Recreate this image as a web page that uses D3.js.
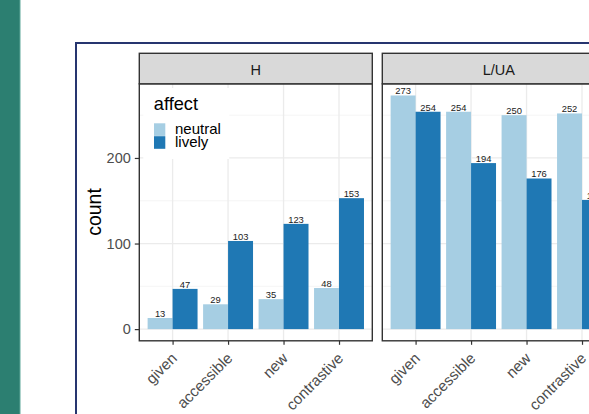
<!DOCTYPE html>
<html><head><meta charset="utf-8">
<script src="https://cdn.jsdelivr.net/npm/d3@7"></script>
<style>body{margin:0;background:#fff;}svg{display:block;font-family:"Liberation Sans",Arial,sans-serif;}</style>
</head><body>
<svg id="c" width="589" height="414"></svg>
<script>
const categories = ["given","accessible","new","contrastive"];
const facets = ["H","L/UA"];
const affects = ["neutral","lively"];
const neutralH = [13,29,35,48];
const livelyH = [47,103,123,153];
const neutralLUA = [273,254,250,252];
const livelyLUA = [254,194,176,151];
const yTicks = [0,100,200];
const colors = ["#a6cee3","#1f78b4"];

const data = {"H":[neutralH,livelyH],"L/UA":[neutralLUA,livelyLUA]};
const svg = d3.select("#c");

// side strip and frame
svg.append("rect").attr("x",0).attr("y",0).attr("width",20).attr("height",414).attr("fill","#2c7f71");
svg.append("rect").attr("x",19.5).attr("y",0).attr("width",1).attr("height",414).attr("fill","#5fa79a");
svg.append("rect").attr("x",76).attr("y",43).attr("width",600).attr("height",500)
  .attr("fill","none").attr("stroke","#26356f").attr("stroke-width",2);

const panelW = 233, panelX = [139.3, 382.3];
const stripTop = 53.3, stripH = 30.5, panelTop = 83.8, panelBot = 340.8;
const maxV = 273;
const y = d3.scaleLinear().domain([-maxV*0.05, maxV*1.05]).range([panelBot, panelTop]);

facets.forEach((f,fi)=>{
  const x0 = panelX[fi];
  const g = svg.append("g").attr("transform",`translate(${x0},0)`);
  const x = d3.scalePoint().domain(categories).range([0.6*panelW/4.2, panelW-0.6*panelW/4.2]);
  const step = panelW/4.2;
  const xs = d3.scaleBand().domain(affects).range([-0.45*step,0.45*step]);
  // gridlines
  const minor = [50,150,250];
  g.selectAll(".mn").data(minor).join("line").attr("x1",0).attr("x2",panelW)
    .attr("y1",d=>y(d)).attr("y2",d=>y(d)).attr("stroke","#f2f2f2").attr("stroke-width",0.8);
  g.selectAll(".mj").data(yTicks).join("line").attr("x1",0).attr("x2",panelW)
    .attr("y1",d=>y(d)).attr("y2",d=>y(d)).attr("stroke","#ebebeb").attr("stroke-width",1.3);
  g.selectAll(".vg").data(categories).join("line").attr("x1",d=>x(d)).attr("x2",d=>x(d))
    .attr("y1",panelTop).attr("y2",panelBot).attr("stroke","#ebebeb").attr("stroke-width",1.3);
  // bars
  affects.forEach((a,ai)=>{
    const vals = data[f][ai];
    g.selectAll(".b"+ai).data(categories).join("rect")
      .attr("x",(d)=>x(d)+xs(a)).attr("width",xs.bandwidth())
      .attr("y",(d,i)=>y(vals[i])).attr("height",(d,i)=>y(0)-y(vals[i]))
      .attr("fill",colors[ai]);
    g.selectAll(".t"+ai).data(categories).join("text")
      .attr("x",(d)=>x(d)+xs(a)+xs.bandwidth()/2).attr("y",(d,i)=>y(vals[i])-1)
      .attr("text-anchor","middle").attr("font-size",9.4).attr("fill","#1a1a1a")
      .text((d,i)=>vals[i]);
  });
  // panel border
  g.append("rect").attr("x",0).attr("y",panelTop).attr("width",panelW).attr("height",panelBot-panelTop)
    .attr("fill","none").attr("stroke","#333").attr("stroke-width",1.4);
  // strip
  g.append("rect").attr("x",0).attr("y",stripTop).attr("width",panelW).attr("height",stripH)
    .attr("fill","#d9d9d9").attr("stroke","#333").attr("stroke-width",1.4);
  g.append("text").attr("x",panelW/2).attr("y",74.8).attr("text-anchor","middle")
    .attr("font-size",14.5).attr("fill","#1a1a1a").text(f);
  // x axis
  const xa = g.append("g").attr("transform",`translate(0,${panelBot})`)
    .call(d3.axisBottom(x).tickSize(4).tickPadding(3));
  xa.select(".domain").remove();
  xa.selectAll(".tick line").attr("stroke","#333").attr("stroke-width",1.2);
  xa.selectAll(".tick text").attr("font-size",15.2).attr("fill","#4d4d4d")
    .attr("text-anchor","end").attr("x",0).attr("y",0).attr("dy",0)
    .attr("transform","translate(4.8,18.4) rotate(-45)");
  if(fi===0){
    const ya = g.append("g").call(d3.axisLeft(y).tickValues(yTicks).tickSize(4.5).tickPadding(4));
    ya.select(".domain").remove();
    ya.selectAll(".tick line").attr("stroke","#333").attr("stroke-width",1.2);
    ya.selectAll(".tick text").attr("font-size",14.5).attr("fill","#4d4d4d");
    // legend
    g.append("rect").attr("x",4).attr("y",88).attr("width",86).attr("height",71).attr("fill","#fff");
    g.append("text").attr("x",14.5).attr("y",110).attr("font-size",18.2).attr("fill","#000").text("affect");
    affects.forEach((a,ai)=>{
      g.append("rect").attr("x",14.7).attr("y",123.3+ai*12.9).attr("width",11.3).attr("height",12.6).attr("fill",colors[ai]);
      g.append("text").attr("x",35.7).attr("y",134.2+ai*12.9).attr("font-size",15).attr("fill","#000").text(a);
    });
  }
});
svg.append("text").attr("transform","translate(101,212) rotate(-90)").attr("text-anchor","middle")
  .attr("font-size",19.5).attr("fill","#000").text("count");
</script>
</body></html>
